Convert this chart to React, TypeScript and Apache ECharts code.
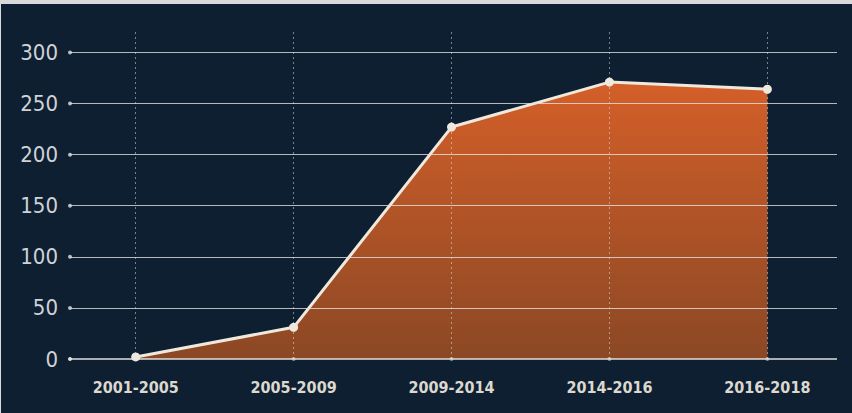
import React, { useEffect, useRef } from "react";
import * as echarts from "echarts";

const categories = ["2001-2005", "2005-2009", "2009-2014", "2014-2016", "2016-2018"];
const values = [2, 31, 227, 271, 264];
const yTicks = [0, 50, 100, 150, 200, 250, 300];
const xMin = -0.416;
const xMax = 4.441;
const yMax = 322;
const condensed = "'DejaVu Sans Condensed', 'DejaVu Sans', sans-serif";

export default function App() {
  const ref = useRef<HTMLDivElement>(null);
  useEffect(() => {
    document.body.style.margin = "0";
    const chart = echarts.init(ref.current!, null, { renderer: "svg" });
    const pts = values.map((v, i) => [i, v]);
    const hLines = yTicks.map((v) => [
      { coord: [xMin, v], lineStyle: { color: v === 0 ? "rgba(235,232,225,0.95)" : "rgba(225,225,225,0.8)", width: v === 0 ? 1.5 : 1, type: "solid" } },
      { coord: [xMax, v] },
    ]);
    const vLines = categories.map((_, i) => [
      { coord: [i, 0], lineStyle: { color: "rgba(230,230,230,0.5)", width: 1, type: [2, 3] } },
      { coord: [i, yMax] },
    ]);
    chart.setOption({
      animation: false,
      backgroundColor: "#0e1f32",
      grid: { left: 69, right: 15, top: 26, bottom: 54 },
      xAxis: {
        type: "value",
        min: xMin,
        max: xMax,
        axisLine: { show: false },
        axisTick: { show: false },
        splitLine: { show: false },
        axisLabel: {
          customValues: categories.map((_, i) => i),
          formatter: (v: number) => categories[Math.round(v)] ?? "",
          color: "#dcd8cf",
          fontFamily: condensed,
          fontWeight: "bold",
          fontSize: 16,
          margin: 20,
        },
      },
      yAxis: {
        type: "value",
        min: 0,
        max: yMax,
        interval: 50,
        axisLine: { show: false },
        axisTick: { show: false },
        splitLine: { show: false },
        axisLabel: {
          formatter: (v: number) => (v % 50 === 0 ? String(v) : ""),
          color: "#cfd2d6",
          fontFamily: condensed,
          fontSize: 22,
          margin: 12,
        },
      },
      series: [
        {
          type: "line",
          z: 1,
          data: pts,
          symbol: "none",
          lineStyle: { width: 0 },
          areaStyle: {
            opacity: 1,
            color: new echarts.graphic.LinearGradient(0, 0, 0, 1, [
              { offset: 0, color: "#d45f29" },
              { offset: 1, color: "#8b4824" },
            ]),
          },
          silent: true,
        },
        {
          type: "line",
          z: 2,
          data: [],
          markLine: {
            silent: true,
            animation: false,
            symbol: ["circle", "none"],
            symbolSize: 4,
            label: { show: false },
            data: [...hLines, ...vLines],
          },
        },
        {
          type: "line",
          z: 3,
          data: pts,
          symbol: "circle",
          symbolSize: 9,
          itemStyle: { color: "#efe9dd", borderWidth: 0 },
          lineStyle: { color: "#efe9dd", width: 3 },
        },
      ],
    });
    return () => chart.dispose();
  }, []);
  return (
    <div style={{ position: "absolute", left: 0, top: 0, width: 852, height: 413, background: "#d9d9d9" }}>
      <div ref={ref} style={{ position: "absolute", left: 1, top: 4, width: 851, height: 409 }} />
    </div>
  );
}
